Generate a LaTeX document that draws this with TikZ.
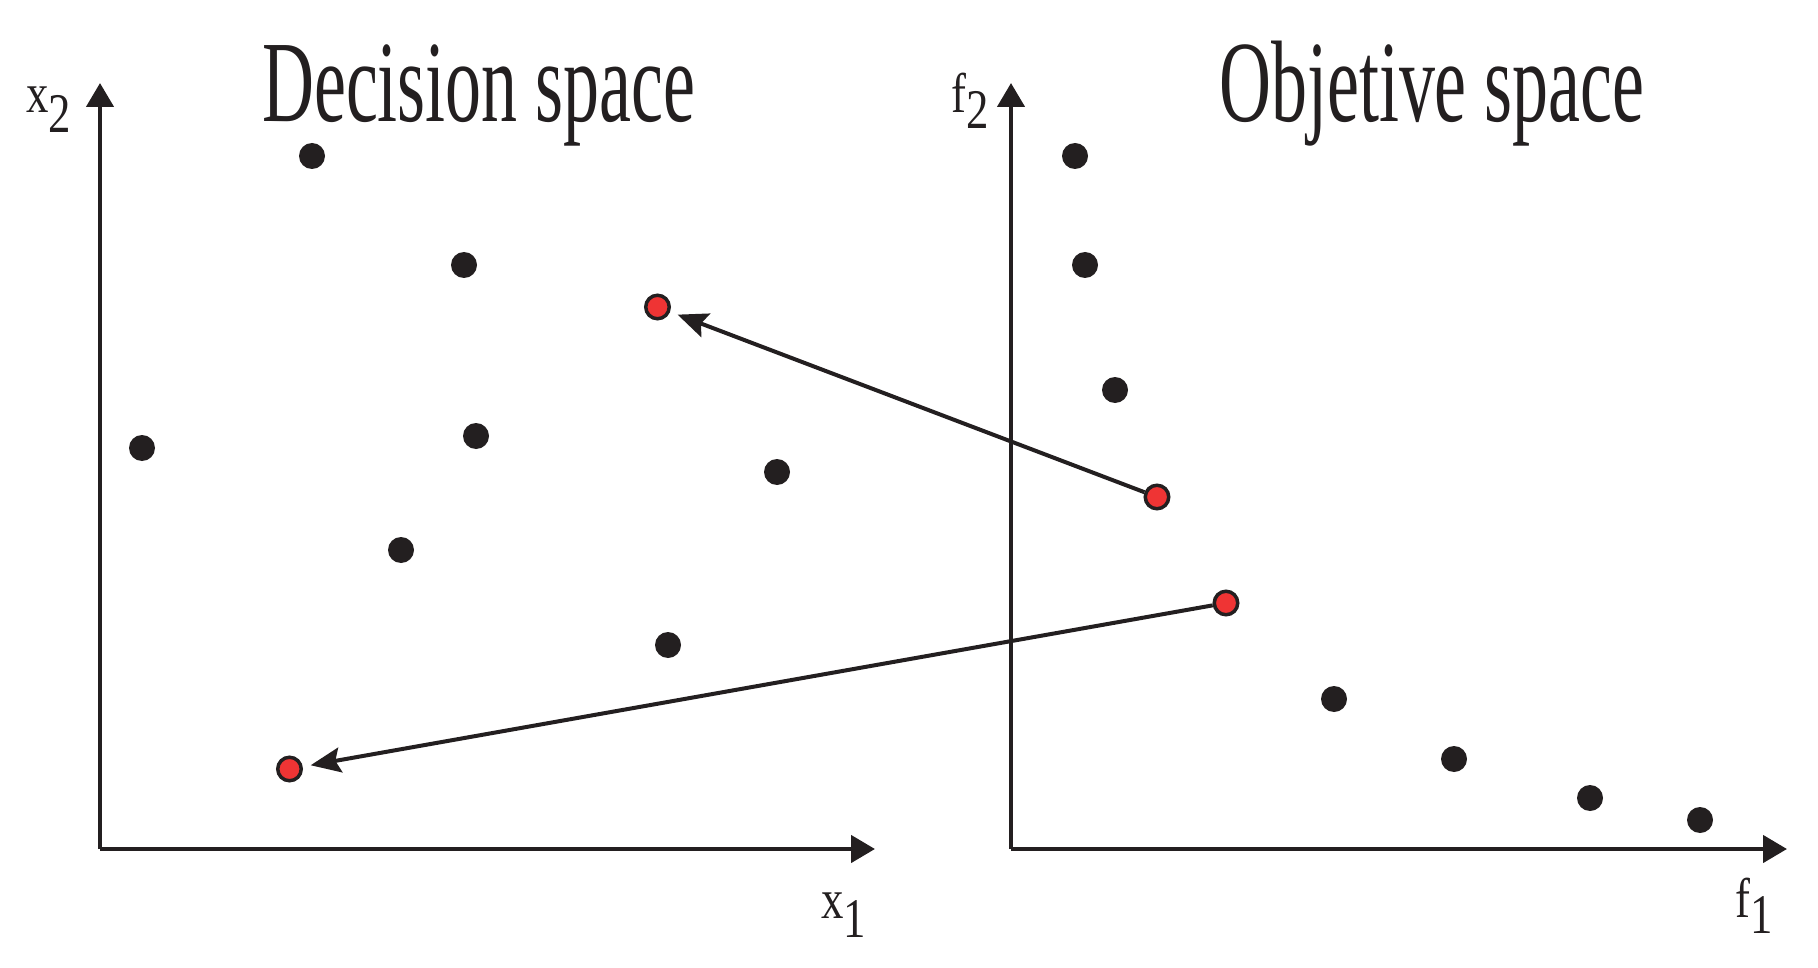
\documentclass[tikz,border=0pt]{standalone}
\usepackage{fontspec}
\setmainfont{Liberation Serif}
\usetikzlibrary{arrows.meta}
\definecolor{ink}{HTML}{231F20}
\definecolor{dotred}{HTML}{EF3434}
\tikzset{
  axis/.style={draw=ink, line width=4.5pt, -{Triangle[length=24pt,width=27pt]}},
  conn/.style={draw=ink, line width=4pt, -{Stealth[length=30pt,width=25pt,inset=5pt]}, shorten >=8pt},
  bdot/.style={circle, fill=ink, inner sep=0pt, minimum size=26pt},
  rdot/.style={circle, fill=dotred, draw=ink, line width=3.5pt, inner sep=0pt, minimum size=23.5pt},
  title/.style={inner sep=0pt, anchor=base west, text=ink, font=\fontsize{116pt}{120pt}\selectfont},
  lab/.style={inner sep=0pt, anchor=base west, text=ink, font=\fontsize{56pt}{60pt}\selectfont},
}
\begin{document}
\begin{tikzpicture}[x=1pt, y=-1pt]
\useasboundingbox (0,0) rectangle (1818,968);
% axes
\coordinate (oL) at (100,849);
\coordinate (xL) at (875,849);
\coordinate (yL) at (100,83);
\coordinate (oR) at (1011,849);
\coordinate (xR) at (1787,849);
\coordinate (yR) at (1011,83);
\draw[axis] (oL) -- (xL);
\draw[axis] (oL) -- (yL);
\draw[axis] (oR) -- (xR);
\draw[axis] (oR) -- (yR);
% titles
\node[title] (t1) at (262,122) {\scalebox{0.62}[1]{Decision space}};
\node[title] (t2) at (1219,122) {\scalebox{0.62}[1]{Objetive space}};
% axis labels
\node[lab] (lx2) at (26,113) {\scalebox{0.8}[1]{x\raisebox{-20pt}{2}}};
\node[lab] (lx1) at (821,918) {\scalebox{0.8}[1]{x\raisebox{-19pt}{1}}};
\node[lab] (lf2) at (951,113) {\scalebox{0.8}[1]{f\raisebox{-16pt}{2}}};
\node[lab] (lf1) at (1735,917) {\scalebox{0.8}[1]{f\raisebox{-16pt}{1}}};
% decision space dots
\node[bdot] (d1) at (312,156) {};
\node[bdot] (d2) at (464,265) {};
\node[rdot] (r1) at (657.5,307) {};
\node[bdot] (d4) at (142,448) {};
\node[bdot] (d5) at (476,436) {};
\node[bdot] (d6) at (777,472) {};
\node[bdot] (d7) at (401,550) {};
\node[bdot] (d8) at (668,645) {};
\node[rdot] (r2) at (289.5,769) {};
% objective space dots
\node[bdot] (o1) at (1075,156) {};
\node[bdot] (o2) at (1085,265) {};
\node[bdot] (o3) at (1115,390) {};
\node[rdot] (r3) at (1157,497) {};
\node[rdot] (r4) at (1226,603) {};
\node[bdot] (o6) at (1334,699) {};
\node[bdot] (o7) at (1454,759) {};
\node[bdot] (o8) at (1590,798) {};
\node[bdot] (o9) at (1700,820) {};
% mapping arrows
\draw[conn] (r3) -- (r1);
\draw[conn] (r4) -- (r2);
\end{tikzpicture}
\end{document}
